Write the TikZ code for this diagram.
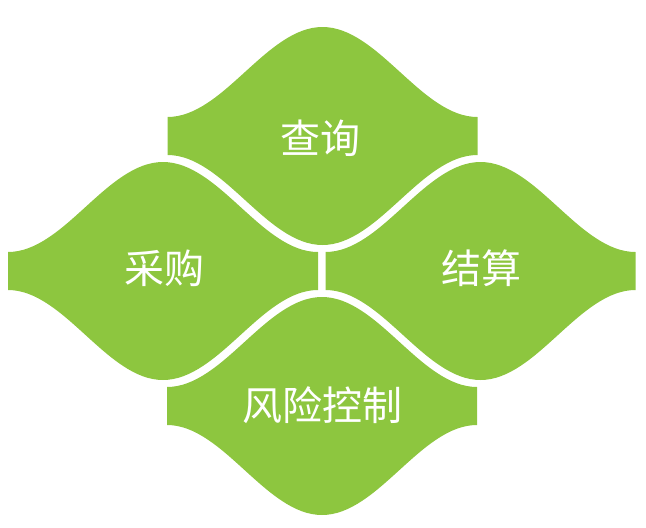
\documentclass[tikz,border=0pt]{standalone}
\usepackage{fontspec}
\newfontfamily\cjk{Noto Sans CJK SC}
\definecolor{tilegreen}{RGB}{141,198,63}
\tikzset{
  tilefill/.style={fill=tilegreen},
  lab/.style={text=white, font=\cjk\fontsize{40}{48}\selectfont, inner sep=0pt},
  pics/wavetile/.style={code={
    \fill[tilefill] (-155,-19)
      .. controls (-99,-19) and (-56,-109) .. (0,-109)
      .. controls (56,-109) and (99,-19) .. (155,-19)
      -- (155,19)
      .. controls (99,19) and (56,109) .. (0,109)
      .. controls (-56,109) and (-99,19) .. (-155,19)
      -- cycle;
  }}
}
\begin{document}
\begin{tikzpicture}[x=1pt,y=-1pt]
\useasboundingbox (0,0) rectangle (646,528);
\pic (tq) at (322.5,136) {wavetile};
\pic (tl) at (163,271) {wavetile};
\pic (tr) at (480.5,271) {wavetile};
\pic (tb) at (322,406) {wavetile};
\node[lab] (q) at (320.5,138) {查询};
\node[lab] (c) at (164,268) {采购};
\node[lab] (j) at (481.5,268) {结算};
\node[lab] (f) at (322,405) {风险控制};
\end{tikzpicture}
\end{document}
